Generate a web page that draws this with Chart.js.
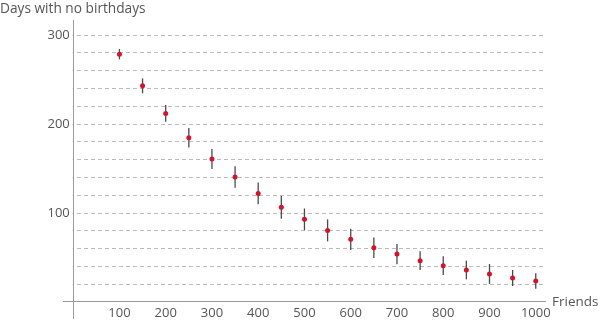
<!DOCTYPE html>
<html><head><meta charset="utf-8">
<script src="https://cdn.jsdelivr.net/npm/chart.js@4.4.1/dist/chart.umd.min.js"></script>
<style>html,body{margin:0;padding:0;background:#fff}#wrap{width:600px;height:321px}</style>
</head><body><div id="wrap"><canvas id="c" width="600" height="321"></canvas></div>
<script>
const friends = [100,150,200,250,300,350,400,450,500,550,600,650,700,750,800,850,900,950,1000];
const days = [278.6,243,212,184.6,160.7,140.4,122,106.4,92.9,80.5,70.4,61,53.9,46.4,40.8,36,31.5,27,23.6];
const errors = [5.8,8.4,9.4,10.9,11.2,12.1,12.2,12.7,12.2,12.4,12,11.6,11.4,10.5,10.5,10.5,11.2,9,8.8];
const xTickValues = [100,200,300,400,500,600,700,800,900,1000];
const yTickValues = [20,40,60,80,100,120,140,160,180,200,220,240,260,280,300];
const yLabelValues = [100,200,300];
const yTitle = 'Days with no birthdays';
const xTitle = 'Friends';

const FONT = 'Open Sans';
const TXT = '#555555';

const decor = {
  id: 'decor',
  beforeDatasetsDraw(chart) {
    const {ctx, chartArea, scales: {x, y}} = chart;
    const x0 = x.getPixelForValue(0);
    ctx.save();
    ctx.fillStyle = '#ffffff';
    ctx.fillRect(chartArea.left, chartArea.top, x0 - 0.5 - chartArea.left, chartArea.bottom - chartArea.top);
    ctx.strokeStyle = '#4a4a4a';
    ctx.lineWidth = 1.3;
    friends.forEach((f, i) => {
      const px = x.getPixelForValue(f);
      ctx.beginPath();
      ctx.moveTo(px, y.getPixelForValue(days[i] + errors[i]));
      ctx.lineTo(px, y.getPixelForValue(days[i] - errors[i]));
      ctx.stroke();
    });
    ctx.restore();
  },
  afterDraw(chart) {
    const {ctx} = chart;
    ctx.save();
    ctx.fillStyle = TXT;
    ctx.textBaseline = 'alphabetic';
    ctx.textAlign = 'left';
    ctx.font = '13.7px "' + FONT + '"';
    ctx.fillText(yTitle, 0, 13);
    ctx.font = '13.5px "' + FONT + '"';
    ctx.fillText(xTitle, 552, 306);
    ctx.restore();
  }
};

const noPad = s => { s.paddingTop = 0; s.paddingBottom = 0; s.paddingLeft = 0; s.paddingRight = 0; };

new Chart(document.getElementById('c'), {
  type: 'scatter',
  data: {
    datasets: [{
      data: friends.map((f, i) => ({x: f, y: days[i]})),
      backgroundColor: '#d0142c',
      borderWidth: 0,
      pointRadius: 2.5,
      pointHoverRadius: 2.5
    }]
  },
  options: {
    responsive: false,
    animation: false,
    devicePixelRatio: 1,
    events: [],
    layout: {padding: {left: 63, right: 55, top: 20, bottom: 3}},
    plugins: {legend: {display: false}, tooltip: {enabled: false}},
    scales: {
      x: {
        type: 'linear', position: {y: 0}, min: -22, max: 1020,
        afterBuildTicks: s => { s.ticks = xTickValues.map(v => ({value: v})); },
        afterFit: noPad,
        grid: {display: false, drawTicks: false},
        border: {display: true, color: '#9a9a9a', width: 1, z: 1},
        ticks: {z: 1, padding: 4, color: TXT, font: {family: FONT, size: 13}, maxRotation: 0, autoSkip: false,
          callback: v => String(v)}
      },
      y: {
        type: 'linear', position: {x: 0}, min: -18, max: 317,
        afterBuildTicks: s => { s.ticks = yTickValues.map(v => ({value: v})); },
        afterFit: noPad,
        grid: {color: '#bcbcbc', lineWidth: 1, drawTicks: true, tickLength: 4, z: -1,
          tickColor: c => (c.tick && yLabelValues.includes(c.tick.value)) ? '#9a9a9a' : 'rgba(0,0,0,0)'},
        border: {display: true, color: '#9a9a9a', width: 1, dash: [4, 3], z: 1},
        ticks: {z: 1, padding: 3, color: TXT, font: {family: FONT, size: 13}, autoSkip: false,
          callback: v => yLabelValues.includes(v) ? String(v) + ' ' : ''}
      }
    }
  },
  plugins: [decor]
});
</script>
</body></html>
